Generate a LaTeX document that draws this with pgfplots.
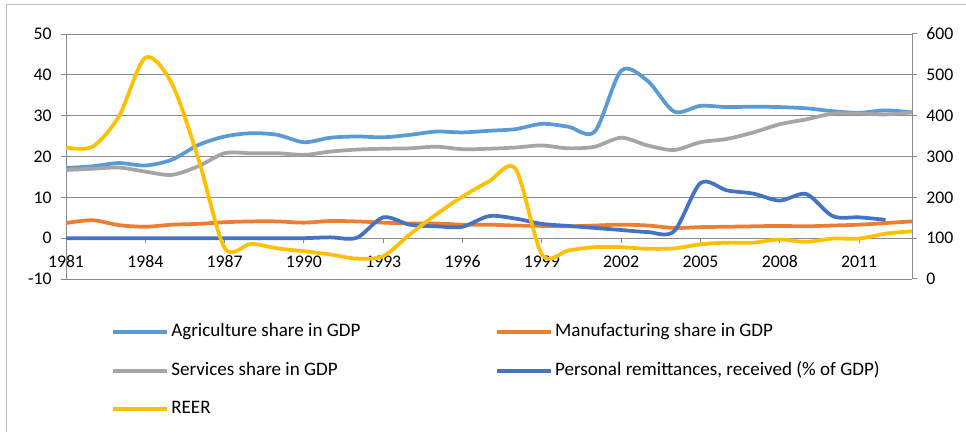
\documentclass[border=0pt]{standalone}
\usepackage{pgfplots}
\pgfplotsset{compat=1.18}
\usepackage{pgfplotstable}
\usepackage{fontspec}
\setmainfont{Carlito}
\definecolor{agri}{HTML}{5B9BD5}
\definecolor{manu}{HTML}{ED7D31}
\definecolor{serv}{HTML}{A5A5A5}
\definecolor{remi}{HTML}{4472C4}
\definecolor{reer}{HTML}{FFC000}
\definecolor{gridc}{HTML}{898989}
\definecolor{framec}{HTML}{BFBFBF}

\pgfplotstableread{
year agri manu serv
1981 17.2 3.7 16.7
1982 17.6 4.4 17.0
1983 18.4 3.2 17.3
1984 17.8 2.8 16.3
1985 19.2 3.3 15.5
1986 22.8 3.5 17.6
1987 24.9 3.9 20.8
1988 25.7 4.1 20.8
1989 25.3 4.1 20.8
1990 23.5 3.8 20.4
1991 24.6 4.2 21.2
1992 24.9 4.1 21.7
1993 24.7 3.8 21.9
1994 25.3 3.6 22.0
1995 26.1 3.6 22.4
1996 25.9 3.3 21.8
1997 26.3 3.3 21.9
1998 26.7 3.1 22.2
1999 28.0 3.0 22.7
2000 27.3 2.9 22.0
2001 26.1 3.1 22.4
2002 41.0 3.3 24.6
2003 38.5 3.1 22.7
2004 31.0 2.5 21.6
2005 32.4 2.7 23.5
2006 32.1 2.8 24.3
2007 32.2 2.9 25.9
2008 32.1 3.0 27.9
2009 31.8 2.9 29.1
2010 31.1 3.1 30.5
2011 30.7 3.3 30.5
2012 31.3 3.7 30.3
2013 30.8 4.1 30.8
}\shares

\pgfplotstableread{
year remi
1981 0
1982 0
1983 0
1984 0
1985 0
1986 0
1987 0
1988 0
1989 0
1990 0
1991 0.2
1992 0.1
1993 5.1
1994 3.3
1995 2.9
1996 2.8
1997 5.4
1998 4.8
1999 3.5
2000 3.0
2001 2.5
2002 2.0
2003 1.5
2004 1.7
2005 13.5
2006 11.7
2007 10.9
2008 9.2
2009 10.8
2010 5.4
2011 5.1
2012 4.5
}\remit

\pgfplotstableread{
year reer
1981 322
1982 324
1983 398
1984 542
1985 479
1986 296
1987 76
1988 86
1989 75
1990 68
1991 60
1992 50
1993 56
1994 109
1995 158
1996 202
1997 239
1998 270
1999 60
2000 70
2001 78
2002 78
2003 74
2004 75
2005 85
2006 89
2007 89
2008 97
2009 91
2010 99
2011 99
2012 111
2013 117
}\reertab

\pgfplotsset{
  common/.style={
    scale only axis,
    width=634.5pt, height=183.75pt,
    at={(49.5pt,114.75pt)}, anchor=south west,
    xmin=1981, xmax=2013,
    tick align=outside,
    major tick length=3.75pt,
    tick style={gridc, line width=0.75pt},
    axis line style={-, gridc, line width=0.75pt},
    /pgf/number format/assume math mode=true,
    tick label style={font=\fontsize{13.3}{15}\selectfont},
  },
  ser/.style={line width=2.8pt, smooth, tension=0.5, no markers},
}

\begin{document}
\begin{tikzpicture}
\useasboundingbox (0,0) rectangle (724.5pt,324pt);
\fill[white] (0,0) rectangle (724.5pt,324pt);
\draw[framec, line width=0.75pt] (4.5pt,0) -- (4.5pt,320.25pt) -- (724.5pt,320.25pt);

\begin{axis}[common,
  axis x line*=middle, axis y line*=left,
  hide obscured x ticks=false, hide obscured y ticks=false,
  ymin=-10, ymax=50, ytick={-10,0,...,50},
  ymajorgrids, grid style={gridc, line width=0.75pt},
  xtick={1981,1984,...,2011},
  xticklabel style={/pgf/number format/1000 sep=, yshift=-6pt},
  yticklabel style={xshift=-3.5pt},
  legend style={
    at={(axis description cs:0.0485,-0.17)}, anchor=north west,
    draw=none, fill=none,
    font=\fontsize{14.3}{16}\selectfont,
    nodes={inner sep=0pt, text height=10pt, text depth=3pt, anchor=base west},
    column sep=0pt, row sep=15.9pt,
  },
  legend columns=2,
  legend cell align=left,
  legend image code/.code={\draw[#1, line width=3pt] (0pt,3.5pt) -- (40pt,3.5pt); \path (42pt,0pt);},
]
\addplot[ser, agri] table[x=year, y=agri] {\shares};
\addlegendentry{\makebox[243pt][l]{Agriculture share in GDP}}
\addplot[ser, manu] table[x=year, y=manu] {\shares};
\addlegendentry{Manufacturing share in GDP}
\addplot[ser, serv] table[x=year, y=serv] {\shares};
\addlegendentry{\makebox[243pt][l]{Services share in GDP}}
\addplot[ser, remi] table[x=year, y=remi] {\remit};
\addlegendentry{Personal remittances, received (\% of GDP)}
\addlegendimage{reer, line width=3pt}
\addlegendentry{REER}
\end{axis}

\begin{axis}[common,
  axis x line=none, axis y line*=right,
  ymin=0, ymax=600, ytick={0,100,...,600},
  yticklabel style={xshift=3.5pt},
]
\addplot[ser, reer] table[x=year, y=reer] {\reertab};
\end{axis}
\end{tikzpicture}
\end{document}
